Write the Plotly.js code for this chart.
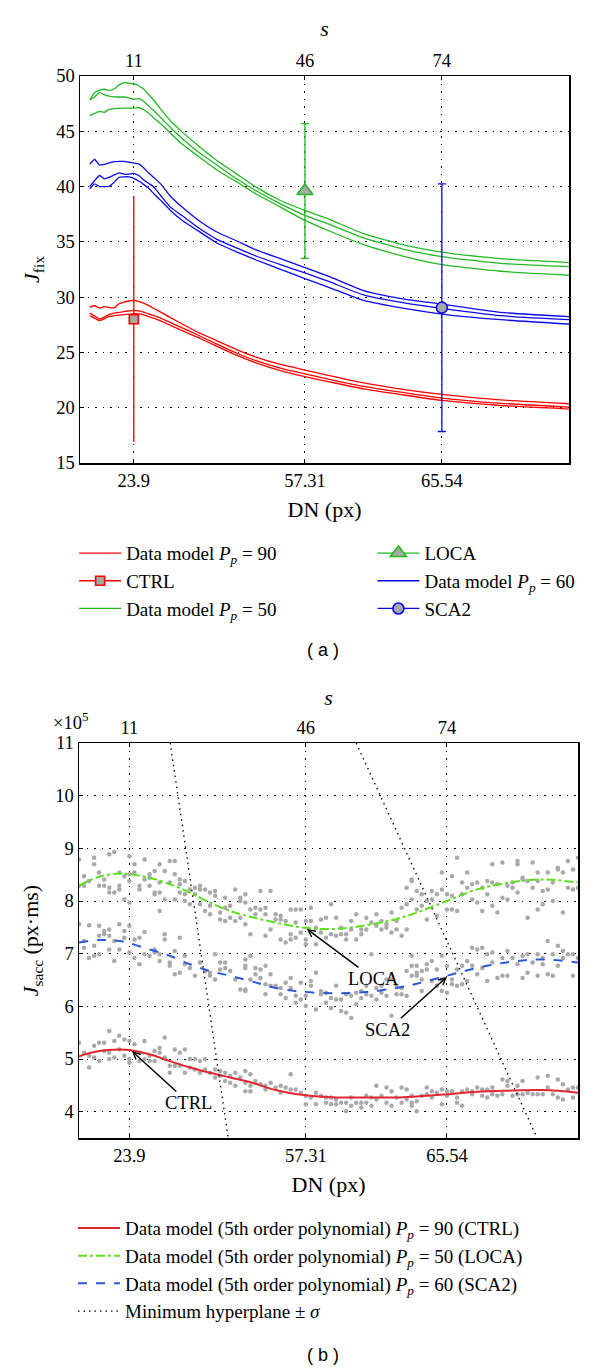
<!DOCTYPE html>
<html>
<head>
<meta charset="utf-8">
<script src="https://cdn.plot.ly/plotly-3.0.1.min.js"></script>
<style>
    body { margin: 0; background: #fff; }
    .graph { width: 600px; height: 685px; }
</style>
</head>
<body>
<div id="graph-a" class="graph"></div>
<div id="graph-b" class="graph"></div>
<script>
// shared x ticks: position in s, labelled with s on top and DN on the bottom
let sTicks = [11, 46, 74];
let dnLabels = ["23.9", "57.31", "65.54"];

// (a) J_fix, three lines per data model
let sFix = [2, 3, 4, 5, 6, 7, 8, 9, 10, 11, 12, 13, 14, 15, 16.5, 18.5, 21, 24, 28, 32, 36, 41, 46, 51, 58, 66, 74, 86, 100];
let ctrlHi  = [29.1, 29.22, 29.02, 29.14, 29.05, 29.05, 29.4, 29.55, 29.65, 29.7, 29.62, 29.45, 29.25, 29.0, 28.65, 28.15, 27.55, 26.85, 26.05, 25.26, 24.58, 23.91, 23.41, 22.9, 22.24, 21.66, 21.2, 20.7, 20.36];
let ctrlMid = [28.56, 28.3, 28.02, 28.2, 28.45, 28.55, 28.62, 28.7, 28.75, 28.8, 28.75, 28.65, 28.5, 28.35, 28.1, 27.7, 27.2, 26.6, 25.75, 24.95, 24.25, 23.57, 23.05, 22.57, 21.93, 21.38, 20.87, 20.4, 20.06];
let ctrlLo  = [28.3, 28.1, 27.87, 28.05, 28.25, 28.32, 28.38, 28.42, 28.46, 28.5, 28.48, 28.4, 28.25, 28.1, 27.85, 27.45, 26.95, 26.38, 25.55, 24.75, 24.05, 23.35, 22.81, 22.34, 21.7, 21.16, 20.66, 20.2, 19.88];
let locaHi  = [47.84, 48.5, 48.72, 48.8, 48.7, 48.85, 49.2, 49.4, 49.36, 49.3, 49.12, 48.82, 48.35, 47.85, 47.0, 45.95, 44.9, 43.75, 42.35, 41.15, 39.95, 38.74, 37.84, 37.03, 35.75, 34.75, 34.08, 33.48, 33.12];
let locaMid = [47.84, 48.1, 48.5, 48.3, 48.18, 48.12, 48.1, 48.1, 48.02, 47.9, 47.96, 47.72, 47.3, 46.9, 46.25, 45.35, 44.3, 43.2, 41.95, 40.7, 39.62, 38.44, 37.4, 36.58, 35.35, 34.35, 33.67, 33.05, 32.76];
let locaLo  = [46.4, 46.62, 46.8, 46.72, 46.98, 47.05, 47.08, 47.1, 47.1, 47.1, 47.15, 46.95, 46.65, 46.25, 45.7, 44.83, 43.8, 42.8, 41.5, 40.43, 39.33, 38.14, 36.94, 35.98, 34.75, 33.72, 32.94, 32.34, 31.98];
let scaHi   = [42.04, 42.45, 41.95, 42.0, 42.15, 42.25, 42.28, 42.28, 42.2, 42.13, 42.05, 41.7, 41.25, 40.85, 40.24, 39.13, 38.1, 37.03, 35.89, 35.1, 34.27, 33.48, 32.67, 31.86, 30.6, 29.85, 29.37, 28.62, 28.23];
let scaMid  = [40.0, 40.55, 41.0, 40.7, 40.85, 41.05, 41.23, 41.12, 41.12, 41.2, 41.0, 40.62, 40.3, 40.0, 39.19, 38.14, 37.33, 36.34, 35.23, 34.46, 33.72, 32.94, 32.19, 31.4, 30.2, 29.5, 28.98, 28.32, 27.96];
let scaLo   = [39.79, 40.24, 40.0, 40.0, 40.03, 40.4, 40.84, 40.88, 40.88, 40.75, 40.5, 40.2, 39.85, 39.4, 38.75, 37.84, 36.9, 36.04, 34.9, 34.1, 33.36, 32.52, 31.68, 30.87, 29.7, 29.0, 28.47, 27.96, 27.57];

// group means with error
let groupNames = ["CTRL", "LOCA", "SCA2"];
let groupMean = [28.0, 39.6, 29.05];
let groupErr = [11.1, 6.1, 11.2];

// (b) J_sacc in units of 1e5, dots as [s, J]
let ctrlDots = [[1,5.31],[2,5.12],[3,5.06],[3,4.84],[4,5.25],[4,5.03],[5,5.31],[5,4.96],[6,5.31],[6,5.15],[7,5.53],[7,5.12],[7,5.00],[8,5.34],[8,5.03],[9,5.44],[9,5.18],[10,5.37],[10,5.06],[11,5.34],[11,5.00],[11,4.93],[12,5.28],[13,5.12],[13,4.96],[14,5.34],[14,5.00],[15,5.06],[15,4.96],[16,5.15],[16,4.96],[17,5.21],[17,5.12],[18,5.41],[18,5.03],[19,4.87],[19,4.74],[20,5.18],[20,4.87],[21,5.12],[21,4.87],[22,5.18],[22,4.74],[23,5.00],[23,4.84],[24,5.00],[24,4.80],[25,4.96],[25,4.74],[26,5.00],[26,4.80],[27,4.74],[28,4.80],[28,4.65],[29,4.77],[29,4.68],[30,4.74],[30,4.58],[31,4.68],[31,4.55],[32,4.74],[32,4.49],[33,4.65],[34,4.55],[34,4.39],[35,4.49],
    [34,4.77],[35,4.71],[35,4.39],[36,4.58],[37,4.52],[38,4.49],[38,4.42],[39,4.55],[40,4.46],[41,4.49],[41,4.36],[42,4.46],[43,4.71],[43,4.42],[44,4.42],[45,4.36],[46,4.30],[46,4.14],[47,4.27],[48,4.36],[48,4.14],[49,4.30],[50,4.27],[50,4.17],[51,4.27],[51,4.14],[52,4.23],[52,4.14],[53,4.17],[54,4.17],[54,4.01],[55,4.27],[55,4.11],[56,4.17],[57,4.17],[57,4.08],[58,4.30],[58,4.17],[59,4.27],[59,4.11],[60,4.49],[60,4.23],[61,4.30],[62,4.46],[62,4.17],[63,4.39],[63,4.11],[64,4.27],[65,4.46],[65,4.17],[66,4.42],[66,4.23],[67,4.30],[67,4.11],
    [67,4.17],[68,4.20],[68,4.01],[69,4.30],[70,4.46],[70,4.33],[71,4.39],[71,4.27],[72,4.36],[73,4.42],[73,4.14],[74,4.39],[74,4.30],[75,4.39],[76,4.27],[76,4.17],[77,4.39],[77,4.11],[78,4.42],[79,4.39],[79,4.33],[80,4.46],[81,4.42],[81,4.30],[82,4.42],[82,4.27],[83,4.46],[83,4.33],[84,4.30],[85,4.33],[85,4.61],[86,4.49],[86,4.58],[87,4.30],[88,4.33],[88,4.49],[89,4.58],[89,4.33],[90,4.36],[91,4.33],[92,4.65],[92,4.33],[93,4.33],[94,4.68],[94,4.46],[95,4.33],[96,4.61],[96,4.27],[97,4.52],[97,4.23],[98,4.42],[99,4.46],[99,4.27],[100,4.46]];

let locaDots = [[1,8.79],[4,8.82],[4,8.70],[2,8.47],[1,8.29],[2,8.29],[3,8.38],[5,8.54],[5,8.29],[6,8.29],[6,8.41],[7,8.89],[8,8.93],[7,8.25],[7,8.16],[8,8.16],[9,8.54],[9,8.29],[9,8.22],[10,8.47],[11,8.85],[11,8.51],[11,8.38],[10,8.03],[11,7.97],[12,8.70],[12,8.54],[13,8.29],[13,8.22],[14,8.79],[14,8.41],[15,8.51],[15,8.44],[15,8.29],[16,8.57],[16,8.16],[16,8.13],[17,8.70],[17,8.35],[17,8.16],[17,7.81],[18,8.57],[18,8.03],[19,8.76],[19,8.35],[20,8.76],[20,8.51],[20,8.03],[21,8.41],[21,8.32],[21,8.16],[22,8.13],[22,8.00],[22,8.38],[23,7.94],[23,8.22],[24,8.25],[24,8.13],[25,8.29],[25,8.22],[25,7.94],[26,8.22],[26,7.81],[27,8.16],[27,7.91],[27,7.75],[28,8.19],[28,8.10],[29,7.78],[29,7.65],[30,8.06],[30,7.87],[30,7.62],[31,7.91],[31,7.68],[32,8.22],[32,7.62],[33,8.06],[33,8.00],[33,7.68],[34,8.13],[34,7.56],
    [34,7.97],[35,7.84],[35,7.37],[36,7.87],[36,7.75],[37,8.19],[37,7.84],[38,7.87],[38,7.75],[38,7.34],[39,8.19],[39,7.46],[40,7.75],[40,7.65],[41,7.72],[41,7.65],[41,7.27],[42,7.62],[42,7.21],[43,7.84],[43,7.37],[43,7.27],[44,7.84],[44,7.59],[44,7.30],[45,7.84],[45,7.40],[46,7.62],[46,7.27],[46,7.18],[47,7.87],[47,7.62],[48,7.49],[48,7.18],[49,7.65],[49,7.40],[50,7.68],[50,7.30],[51,7.94],[51,7.37],[52,7.68],[52,7.34],[53,7.49],[53,7.37],[54,7.37],[54,7.27],[55,7.62],[55,7.46],[56,7.75],[56,7.27],[57,7.46],[57,7.37],[58,7.68],[58,7.46],[59,7.59],[60,7.75],[60,7.53],[61,7.62],[61,7.46],[62,7.56],[62,7.49],[63,7.78],[63,7.40],[64,7.62],[64,7.46],[65,7.87],[65,7.34],[66,7.94],[66,7.46],[66,8.25],[67,8.03],[67,8.38],[68,7.84],
    [67,8.41],[68,8.19],[69,8.13],[69,7.91],[70,8.00],[70,7.65],[71,8.19],[71,8.03],[72,8.13],[72,7.72],[73,8.54],[73,8.22],[74,8.13],[74,7.84],[75,8.47],[75,8.10],[75,7.84],[76,8.82],[76,7.81],[77,8.35],[77,8.13],[78,8.54],[78,8.25],[79,8.32],[79,8.03],[80,8.35],[80,7.97],[81,8.25],[81,7.81],[82,8.38],[82,8.13],[83,8.35],[83,7.91],[83,8.70],[84,8.32],[84,7.78],[85,8.73],[85,8.06],[86,8.29],[86,8.03],[87,8.35],[87,8.25],[88,8.76],[88,8.70],[88,8.16],[89,8.41],[89,8.44],[90,8.38],[90,7.68],[91,8.73],[91,8.25],[92,8.54],[92,8.38],[92,7.84],[93,8.19],[93,7.94],[94,8.54],[94,8.22],[95,8.35],[95,8.00],[96,8.63],[96,8.60],[97,8.54],[97,7.78],[98,8.76],[98,8.25],[99,8.60],[99,8.22],[100,8.82],[100,8.25]];

let scaDots = [[1,7.56],[3,7.54],[2,7.24],[2,7.11],[3,6.92],[4,7.15],[4,6.96],[5,7.53],[5,7.34],[5,6.99],[6,7.43],[6,7.37],[7,7.46],[7,7.34],[7,7.08],[8,6.86],[8,7.24],[9,7.56],[9,7.08],[10,7.43],[10,7.30],[11,7.53],[11,7.02],[12,7.27],[12,6.92],[13,7.30],[13,6.80],[14,7.41],[14,6.99],[15,6.96],[16,7.08],[16,7.02],[17,6.99],[17,6.86],[18,7.37],[18,7.27],[19,6.83],[19,6.77],[20,7.05],[20,6.61],[21,7.30],[21,6.64],[22,6.96],[22,6.80],[23,6.73],[24,6.58],[25,6.83],[26,6.67],[27,6.64],[27,6.58],[28,6.99],[28,6.51],[29,6.83],[29,6.70],[30,6.83],[30,6.73],[31,6.67],[32,6.51],[33,6.32],[34,6.89],[34,6.73],[34,6.29],[35,6.96],
    [34,6.77],[34,6.32],[35,6.51],[36,6.73],[36,6.61],[37,6.70],[37,6.54],[38,6.77],[38,6.42],[38,6.23],[39,6.61],[39,6.39],[40,6.39],[41,6.35],[41,6.23],[42,6.45],[42,6.16],[43,6.54],[43,6.35],[44,6.20],[44,6.07],[45,6.45],[45,6.13],[46,6.20],[46,6.01],[47,6.48],[47,6.39],[48,6.64],[48,5.94],[49,6.29],[49,6.23],[50,6.26],[50,6.07],[51,6.16],[51,5.97],[52,6.39],[52,6.13],[53,6.13],[53,5.91],[54,6.23],[54,5.88],[55,6.20],[55,5.78],[56,6.26],[56,6.04],[57,6.29],[57,6.16],[58,6.39],[58,6.23],[59,6.99],[59,6.20],[60,6.35],[60,6.13],[61,6.39],[61,6.26],[62,6.51],[62,6.20],[63,6.51],[63,5.82],[64,6.39],[64,6.23],[65,6.35],[65,6.23],[66,6.67],[66,6.20],[67,6.77],[67,6.58],[68,6.64],
    [67,6.96],[68,6.77],[68,6.58],[69,6.67],[69,6.51],[69,6.29],[70,6.80],[70,6.70],[71,6.86],[71,6.48],[72,6.70],[72,6.39],[73,6.96],[73,6.51],[73,6.29],[74,6.77],[74,6.26],[75,6.51],[75,6.42],[76,6.70],[76,6.39],[77,6.77],[77,6.42],[78,6.86],[78,6.48],[79,7.11],[79,6.77],[80,7.08],[80,6.61],[81,7.11],[81,6.73],[82,6.99],[82,6.48],[83,7.02],[83,6.83],[84,6.54],[85,6.92],[85,6.58],[86,7.05],[86,6.58],[87,6.92],[88,6.80],[89,6.96],[89,6.54],[90,6.99],[90,6.64],[91,6.83],[92,6.99],[92,6.58],[93,6.92],[93,6.80],[94,7.24],[94,6.61],[95,6.99],[95,6.58],[96,7.15],[96,6.77],[97,7.05],[97,6.92],[98,6.99],[99,6.99],[99,6.58],[100,6.92]];

// 5th order polynomial fits, read at these s
let fitS = [1, 5, 9, 11, 15, 19, 23, 27, 31, 35, 40, 46, 52, 58, 64, 68, 74, 80, 87, 93, 100];
let ctrlFit = [5.05, 5.15, 5.18, 5.17, 5.09, 4.96, 4.84, 4.74, 4.65, 4.56, 4.41, 4.31, 4.27, 4.27, 4.27, 4.29, 4.33, 4.38, 4.40, 4.41, 4.36];
let locaFit = [8.29, 8.46, 8.52, 8.51, 8.44, 8.32, 8.16, 7.97, 7.81, 7.70, 7.59, 7.49, 7.47, 7.54, 7.66, 7.78, 8.0, 8.22, 8.36, 8.41, 8.35];
let scaFit  = [7.21, 7.26, 7.24, 7.2, 7.08, 6.96, 6.80, 6.67, 6.58, 6.48, 6.35, 6.27, 6.25, 6.27, 6.35, 6.43, 6.58, 6.73, 6.85, 6.89, 6.83];

// minimum hyperplane +/- sigma (two lines)
let hypS = [19.1, 30.6, null, 56, 91.9];
let hypJ = [11, 3.5, null, 11, 3.5];

let serif = "Liberation Serif, Times New Roman, serif";
let sans = "Liberation Sans, Arial, sans-serif";
let dotGrid = "1.5px,6px";

function threeLines(s, a, b, c) {
    return {
        x: s.concat([null], s, [null], s),
        y: a.concat([null], b, [null], c)
    };
}

function modelTrace(s, a, b, c, color, name, legend, rank) {
    let xy = threeLines(s, a, b, c);
    return {
        x: xy.x,
        y: xy.y,
        type: "scatter",
        mode: "lines",
        line: {color: color, width: 1.3, shape: "spline", smoothing: 0.5},
        name: name,
        legend: legend,
        legendrank: rank
    };
}

function groupTrace(i, color, symbol, size, capWidth, legend, rank) {
    return {
        x: [sTicks[i]],
        y: [groupMean[i]],
        xaxis: "x2",
        type: "scatter",
        mode: "lines+markers",
        marker: {symbol: symbol, size: size, color: "#a8a8a8", line: {color: color, width: 1.6}},
        line: {color: color, width: 1.3},
        error_y: {type: "data", array: [groupErr[i]], color: color, thickness: 1.3, width: capWidth},
        name: groupNames[i],
        legend: legend,
        legendrank: rank
    };
}

function pp(v) {
    return "Data model <i>P<sub>p</sub></i> = " + v;
}

function baseX(extra) {
    let ax = {
        range: [0, 100],
        tickvals: sTicks,
        ticktext: dnLabels,
        showgrid: true,
        gridcolor: "black",
        gridwidth: 1,
        griddash: dotGrid,
        showline: true,
        mirror: true,
        linecolor: "black",
        linewidth: 1.5,
        ticks: "inside",
        ticklen: 4,
        tickcolor: "black",
        zeroline: false,
        title: {text: "DN (px)", standoff: 12}
    };
    return Object.assign(ax, extra);
}

function topX(range) {
    return {
        overlaying: "x",
        side: "top",
        range: range,
        tickvals: sTicks,
        ticktext: sTicks.map(String),
        showgrid: false,
        ticks: "inside",
        ticklen: 4,
        tickcolor: "black",
        ticklabelstandoff: 4,
        zeroline: false,
        title: {text: "<i>s</i>", standoff: 8}
    };
}

function baseY(range, dtick, title) {
    return {
        range: range,
        dtick: dtick,
        tick0: 0,
        showgrid: true,
        gridcolor: "black",
        gridwidth: 1,
        griddash: dotGrid,
        showline: true,
        mirror: true,
        linecolor: "black",
        linewidth: 1.5,
        ticks: "inside",
        ticklen: 4,
        tickcolor: "black",
        zeroline: false,
        title: {text: title, standoff: 10}
    };
}

function legendAt(x, y) {
    return {
        x: x, y: y, xanchor: "left", yanchor: "top",
        bgcolor: "rgba(0,0,0,0)",
        font: {family: serif, size: 19, color: "black"},
        itemwidth: 42,
        tracegroupgap: 0
    };
}

function label(text, x, y) {
    return {
        text: text, xref: "paper", yref: "paper", x: x, y: y,
        xanchor: "center", yanchor: "middle",
        showarrow: false, font: {family: sans, size: 18, color: "black"}
    };
}

// ---------- (a) ----------
// line traces drawn first, marker traces sit on the overlay axis
let tracesA = [
    modelTrace(sFix, ctrlHi, ctrlMid, ctrlLo, "#ff0000", pp(90), "legend", 1),
    modelTrace(sFix, locaHi, locaMid, locaLo, "#22b822", pp(50), "legend", 3),
    modelTrace(sFix, scaHi, scaMid, scaLo, "#0a0ae6", pp(60), "legend2", 2),
    groupTrace(0, "#ff0000", "square", 9, 0, "legend", 2),
    groupTrace(1, "#22b822", "triangle-up", 14, 4, "legend2", 1),
    groupTrace(2, "#0a0ae6", "circle", 11, 4, "legend2", 3)
];

let layoutA = {
    width: 600,
    height: 685,
    margin: {l: 80, r: 31, t: 76, b: 222},
    paper_bgcolor: "white",
    plot_bgcolor: "white",
    font: {family: serif, size: 18.5, color: "black"},
    xaxis: baseX({}),
    xaxis2: topX([0, 100]),
    yaxis: baseY([15, 50], 5, "<i>J</i><sub>fix</sub>"),
    showlegend: true,
    legend: legendAt(-0.012, -0.184),
    legend2: legendAt(0.598, -0.184),
    annotations: [label("( a )", 0.496, -0.482)]
};

// ---------- (b) ----------
function dotTrace(dots) {
    return {
        x: dots.map(d => d[0]),
        y: dots.map(d => d[1]),
        type: "scatter",
        mode: "markers",
        marker: {color: "#a9a9a9", size: 4.5},
        showlegend: false,
        hoverinfo: "skip"
    };
}

function fitTrace(vals, color, dash, name) {
    return {
        x: fitS,
        y: vals,
        type: "scatter",
        mode: "lines",
        line: {color: color, dash: dash, width: 2, shape: "spline"},
        name: name
    };
}

let tracesB = [
    dotTrace(ctrlDots),
    dotTrace(locaDots),
    dotTrace(scaDots),
    fitTrace(ctrlFit, "#e3262d", "solid", "Data model (5th order polynomial) <i>P<sub>p</sub></i> = 90 (CTRL)"),
    fitTrace(locaFit, "#5ee01e", "dashdot", "Data model (5th order polynomial) <i>P<sub>p</sub></i> = 50 (LOCA)"),
    fitTrace(scaFit, "#2c58d8", "dash", "Data model (5th order polynomial) <i>P<sub>p</sub></i> = 60 (SCA2)"),
    {
        x: hypS,
        y: hypJ,
        xaxis: "x2",
        type: "scatter",
        mode: "lines",
        line: {color: "black", dash: "1.5px,4px", width: 1.3},
        name: "Minimum hyperplane ± <i>σ</i>"
    }
];

function arrowNote(text, x, y, ax, ay) {
    return {
        text: text, x: x, y: y, ax: ax, ay: ay, xref: "x", yref: "y",
        showarrow: true, arrowhead: 5, arrowsize: 1, arrowwidth: 1.4, arrowcolor: "black",
        font: {family: serif, size: 18.5, color: "black"}
    };
}

let expLabel = label("×10<sup>5</sup>", -0.018, 1.055);
expLabel.font = {family: serif, size: 18.5, color: "black"};

let layoutB = {
    width: 600,
    height: 685,
    margin: {l: 79, r: 22, t: 58, b: 232},
    paper_bgcolor: "white",
    plot_bgcolor: "white",
    font: {family: serif, size: 18.5, color: "black"},
    xaxis: baseX({range: [1, 100]}),
    xaxis2: topX([1, 100]),
    yaxis: baseY([3.5, 11], 1, "<i>J</i><sub>sacc</sub> (px·ms)"),
    showlegend: true,
    legend: legendAt(-0.012, -0.18),
    annotations: [
        arrowNote("LOCA", 46.2, 7.47, 67, 50),
        arrowNote("SCA2", 74, 6.56, -59, 53),
        arrowNote("CTRL", 11.5, 5.15, 57, 52),
        expLabel,
        label("( b )", 0.488, -0.549)
    ]
};

Plotly.newPlot(document.getElementById("graph-a"), tracesA, layoutA, {staticPlot: true});
Plotly.newPlot(document.getElementById("graph-b"), tracesB, layoutB, {staticPlot: true});
</script>
</body>
</html>
